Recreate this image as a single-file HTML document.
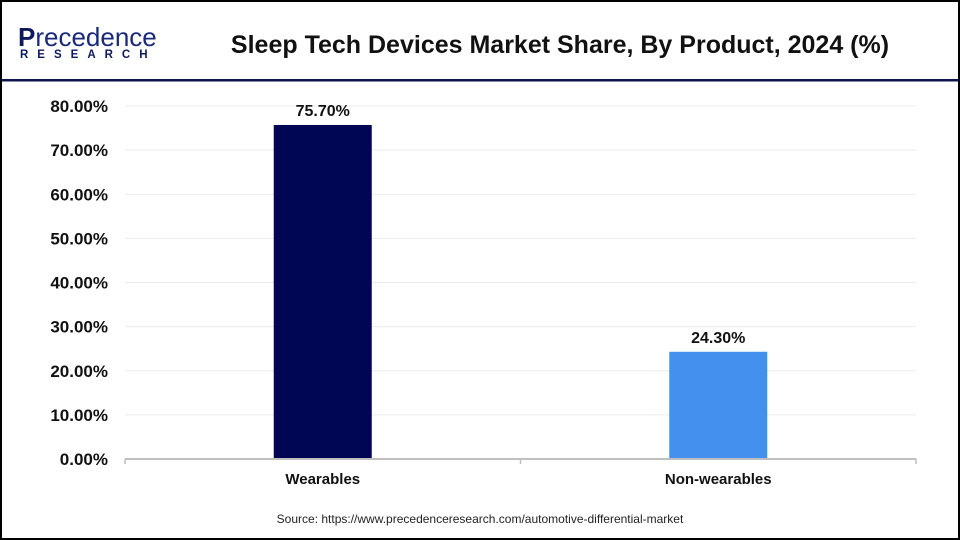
<!DOCTYPE html>
<html><head><meta charset="utf-8"><style>
body{margin:0;width:960px;height:540px;overflow:hidden;background:#fff;font-family:"Liberation Sans",Arial,sans-serif}
#frame{position:absolute;left:0;top:0;width:956px;height:536px;border:2px solid #000}
</style></head><body>
<div id="frame"></div>
<svg width="960" height="540" style="position:absolute;left:0;top:0">
<g>
<text x="18" y="46" font-size="26" fill="#0d1a5c" font-weight="bold" font-family="Liberation Sans, sans-serif">P<tspan fill="#1a2a7a" font-weight="normal">recedence</tspan></text>
<text x="20" y="58" font-size="11.5" fill="#0d1a5c" font-weight="bold" letter-spacing="9">RESEARCH</text>
</g>
<text x="560" y="53" font-size="25" font-weight="bold" text-anchor="middle" fill="#111">Sleep Tech Devices Market Share, By Product, 2024 (%)</text>
<rect x="2" y="79" width="956" height="2.5" fill="#0d1450"/>
<g id="grid"></g><g id="bars"></g><g id="axes"></g>
<text x="480" y="523" font-size="12" text-anchor="middle" fill="#222">Source: https://www.precedenceresearch.com/automotive-differential-market</text>
</svg>
<script>
const categories=["Wearables","Non-wearables"];
const values=[75.7,24.3];
const valueLabels=["75.70%","24.30%"];
const yTicks=[0,10,20,30,40,50,60,70,80];
const colors=["#000554","#4390ee"];
const NS="http://www.w3.org/2000/svg";
const x0=125,x1=916,y0=459,yTop=106,yMax=80,bw=98;
const y=v=>y0-(v/yMax)*(y0-yTop);
const xc=i=>x0+(x1-x0)/categories.length*(i+0.5);
function mk(t,a,p,txt){const e=document.createElementNS(NS,t);for(const k in a)e.setAttribute(k,a[k]);if(txt!==undefined)e.textContent=txt;p.appendChild(e);return e;}
const g=document.getElementById('grid'),b=document.getElementById('bars'),ax=document.getElementById('axes');
yTicks.forEach(t=>{
 if(t>0){const l=mk('line',{x1:x0,x2:x1,y1:y(t),y2:y(t),stroke:'#ebebeb','stroke-width':1},g);
 
 }
 const tx=mk('text',{x:108,y:y(t)+6,'font-size':17,'font-weight':'bold','text-anchor':'end',fill:'#111'},ax,t.toFixed(2)+'%');
 
 
});
categories.forEach((c,i)=>{
 const r=mk('rect',{x:xc(i)-bw/2,y:y(values[i]),width:bw,height:y0-y(values[i]),fill:colors[i]},b);
 
 
 const v=mk('text',{x:xc(i),y:y(values[i])-9,'font-size':16,'font-weight':'bold','text-anchor':'middle',fill:'#111'},b,valueLabels[i]);
 
 
 const cl=mk('text',{x:xc(i),y:484,'font-size':15,'font-weight':'bold','text-anchor':'middle',fill:'#111'},ax,c);
 
 
});
const al=mk('line',{x1:x0,x2:x1,y1:y0,y2:y0,stroke:'#bfbfbf','stroke-width':2},ax);


for(let i=0;i<=categories.length;i++){const xx=x0+(x1-x0)/categories.length*i;
 const tk=mk('line',{x1:xx,x2:xx,y1:y0,y2:y0+5,stroke:'#bfbfbf','stroke-width':1.5},ax);
 
 }
</script>
</body></html>
